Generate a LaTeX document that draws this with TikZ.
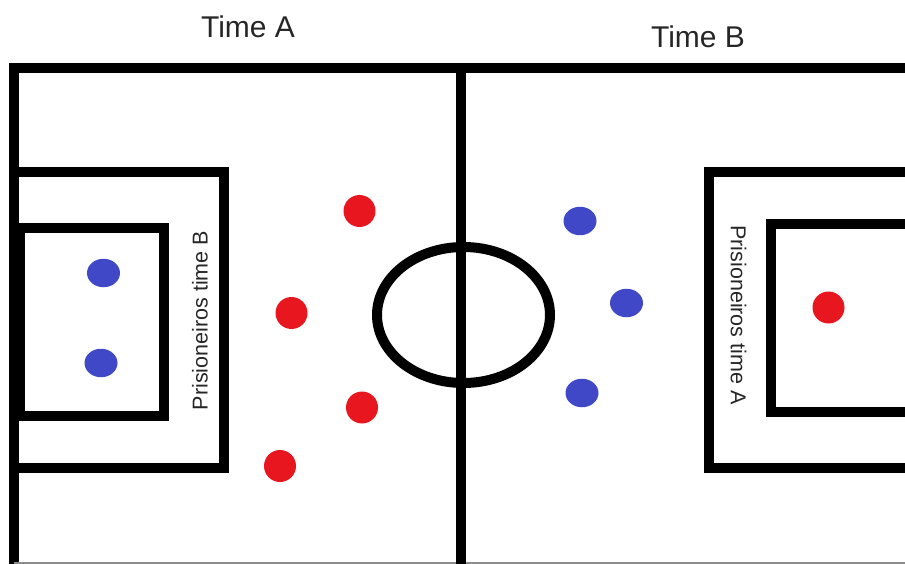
\documentclass[tikz,border=0pt]{standalone}
\usepackage{fontspec}
\setmainfont{Liberation Sans}
\usetikzlibrary{shapes.geometric}
\definecolor{dotred}{RGB}{232,22,31}
\definecolor{dotblue}{RGB}{64,72,200}
\begin{document}
\begin{tikzpicture}[x=1pt,y=-1pt,
  fieldline/.style={line width=10pt, line join=miter, line cap=rect},
  reddot/.style={circle, fill=dotred, inner sep=0pt, minimum size=32pt},
  bluedot/.style={ellipse, fill=dotblue, inner sep=0pt, minimum width=33pt, minimum height=28.5pt},
  title/.style={font=\fontsize{30}{36}\selectfont, inner sep=0pt, text=black!85},
  prison/.style={font=\fontsize{21.5}{26}\selectfont, inner sep=0pt, text=black!85}]
\useasboundingbox (0,0) rectangle (905,564);
\clip (0,0) rectangle (905,564);
% field outline
\draw[fieldline,line cap=butt] (14,580) -- (14,68) -- (920,68);
\draw[line width=2pt, black!45] (14,563) -- (905,563);
% centre line and circle
\draw[fieldline,line cap=butt] (461,68) -- (461,580);
\draw[line width=10pt] (463.5,315) ellipse [x radius=86.5, y radius=68];
% left boxes
\draw[fieldline] (14,172) -- (224,172) -- (224,468) -- (14,468);
\draw[fieldline] (20,228) rectangle (164,416);
% right boxes
\draw[fieldline] (920,172) -- (708.5,172) -- (708.5,468) -- (920,468);
\draw[fieldline] (920,224) -- (771,224) -- (771,412) -- (920,412);
% titles
\node[title] (ta) at (248,27) {Time A};
\node[title] (tb) at (698,37) {Time B};
\node[prison, rotate=90] (pb) at (200,320.5) {Prisioneiros time B};
\node[prison, rotate=-90] (pa) at (738.5,315) {Prisioneiros time A};
% red players
\node[reddot] (r1) at (359.5,211) {};
\node[reddot] (r2) at (291.5,313) {};
\node[reddot] (r3) at (362,407.5) {};
\node[reddot] (r4) at (280,466) {};
\node[reddot] (r5) at (828.5,307.5) {};
% blue players
\node[bluedot] (b1) at (103.5,273) {};
\node[bluedot] (b2) at (101,363) {};
\node[bluedot] (b3) at (580,221) {};
\node[bluedot] (b4) at (626.5,303) {};
\node[bluedot] (b5) at (582,393) {};
\end{tikzpicture}
\end{document}
